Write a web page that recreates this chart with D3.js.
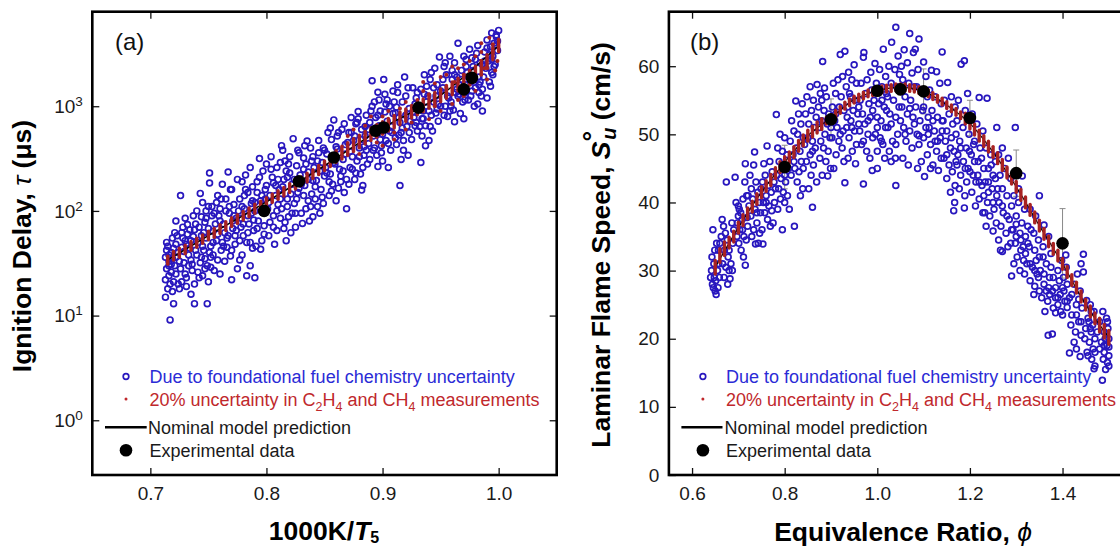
<!DOCTYPE html>
<html>
<head>
<meta charset="utf-8">
<script src="https://cdn.jsdelivr.net/npm/d3@7"></script>
<style>
  body { margin: 0; background: #fff; }
  svg { display: block; font-family: "Liberation Sans", Arial, Helvetica, sans-serif; }
</style>
</head>
<body>
<svg id="fig" width="1120" height="549"></svg>
<script>
// ---------------- Panel (a): ignition delay vs 1000K/T5 ----------------
const ignTicksX = [0.7, 0.8, 0.9, 1.0];
const ignTicksY = [1, 10, 100, 1000];

// blue open circles: [1000K/T5, tau (us)]
const ignBlue = [
[0.713,15],[0.715,18],[0.717,9.1],[0.720,13],[0.714,28],[0.716,33],[0.718,40],[0.715,46],[0.719,55],[0.721,62],[0.722,80],[0.716,24],[0.720,21],[0.713,36],[0.718,26],[0.721,30],[0.714,42],[0.722,48],[0.717,20],[0.719,17],
[0.726,140],[0.730,85],[0.728,70],[0.732,60],[0.735,52],[0.727,45],[0.733,38],[0.729,32],[0.736,27],[0.731,23],[0.738,20],[0.725,18],[0.735,16],[0.738,13],[0.740,100],[0.737,90],[0.739,75],[0.734,66],[0.730,25],[0.727,21],
[0.751,230],[0.751,185],[0.743,147],[0.745,120],[0.748,100],[0.753,90],[0.747,78],[0.750,68],[0.744,58],[0.754,50],[0.746,42],[0.752,36],[0.749,30],[0.755,27],[0.745,24],[0.750,21],[0.743,32],[0.749,13],[0.753,110],[0.746,62],
[0.767,235],[0.762,180],[0.770,160],[0.765,130],[0.772,115],[0.760,105],[0.768,95],[0.774,85],[0.763,75],[0.771,68],[0.758,60],[0.766,55],[0.773,48],[0.761,42],[0.769,37],[0.764,33],[0.775,28],[0.760,25],[0.770,22],[0.758,140],
[0.786,260],[0.782,220],[0.779,190],[0.788,170],[0.784,150],[0.777,130],[0.790,120],[0.781,105],[0.787,95],[0.778,85],[0.785,75],[0.789,65],[0.780,58],[0.783,50],[0.788,44],[0.779,38],[0.786,30],[0.783,24],[0.790,23],[0.777,34],
[0.794,316],[0.800,280],[0.797,240],[0.805,210],[0.792,190],[0.808,175],[0.799,160],[0.803,140],[0.795,125],[0.810,115],[0.801,105],[0.806,90],[0.793,80],[0.798,72],[0.809,65],[0.802,58],[0.796,52],[0.791,46],[0.795,43],[0.807,48],
[0.823,490],[0.814,380],[0.820,330],[0.812,290],[0.826,270],[0.817,240],[0.829,220],[0.815,200],[0.822,180],[0.811,160],[0.827,150],[0.818,130],[0.824,118],[0.813,105],[0.830,95],[0.819,88],[0.816,78],[0.825,70],[0.821,62],[0.817,52],
[0.835,465],[0.838,400],[0.845,360],[0.832,320],[0.848,290],[0.841,260],[0.836,235],[0.850,215],[0.843,195],[0.833,175],[0.847,160],[0.839,145],[0.842,130],[0.849,118],[0.834,105],[0.846,95],[0.840,88],[0.837,80],[0.844,110],[0.831,76],
[0.858,740],[0.853,560],[0.865,600],[0.856,480],[0.868,430],[0.861,390],[0.852,350],[0.866,310],[0.859,280],[0.863,250],[0.855,225],[0.869,200],[0.857,180],[0.862,165],[0.867,150],[0.854,140],[0.860,125],[0.869,105],[0.864,190],[0.851,260],
[0.879,890],[0.873,780],[0.886,820],[0.877,680],[0.889,700],[0.882,600],[0.871,560],[0.885,520],[0.875,470],[0.888,440],[0.880,400],[0.872,370],[0.884,340],[0.878,300],[0.887,280],[0.874,250],[0.881,225],[0.876,200],[0.883,175],[0.882,158],
[0.891,1750],[0.901,1800],[0.896,1360],[0.902,1300],[0.893,1100],[0.906,1000],[0.898,900],[0.909,850],[0.894,780],[0.904,720],[0.897,650],[0.908,560],[0.892,520],[0.903,470],[0.899,420],[0.907,380],[0.895,340],[0.900,300],[0.905,260],[0.896,265],
[0.919,1900],[0.926,1500],[0.913,1350],[0.929,1200],[0.917,1100],[0.923,950],[0.911,860],[0.927,780],[0.915,700],[0.921,640],[0.930,580],[0.914,530],[0.925,480],[0.912,430],[0.918,380],[0.922,340],[0.916,310],[0.915,175],[0.928,650],[0.920,820],
[0.949,2950],[0.945,2300],[0.936,2000],[0.941,1800],[0.947,1600],[0.933,1450],[0.939,1250],[0.944,1100],[0.950,1000],[0.935,900],[0.942,820],[0.948,720],[0.937,650],[0.943,580],[0.934,520],[0.940,470],[0.937,420],[0.933,290],[0.946,860],[0.938,1550],
[0.965,4000],[0.958,3000],[0.962,2600],[0.953,2400],[0.968,2200],[0.955,2000],[0.960,1800],[0.966,1600],[0.952,1500],[0.963,1350],[0.957,1200],[0.969,1100],[0.954,1000],[0.961,920],[0.967,850],[0.956,800],[0.962,710],[0.970,760],[0.959,1100],[0.964,1900],
[0.975,3500],[0.981,3200],[0.972,2800],[0.984,2600],[0.978,2400],[0.973,2100],[0.983,1900],[0.976,1700],[0.980,1500],[0.971,1350],[0.985,1250],[0.974,1150],[0.982,1050],[0.979,1000],[0.986,900],[0.977,2900],[0.983,1350],[0.972,1600],
[1.000,5300],[0.994,5000],[0.998,4600],[0.990,4300],[0.996,4000],[0.993,3700],[0.999,3400],[0.988,3300],[0.995,3000],[0.991,2700],[0.997,2500],[0.989,2300],[0.994,2100],[0.987,1900],[0.992,1700],[0.998,3800],[0.986,1450],[0.990,1200],[0.995,2000],[0.993,1550],
[0.713,22],[0.716,30],[0.719,35],[0.722,25],[0.724,40],[0.726,28],[0.728,55],[0.731,48],[0.733,30],[0.735,34],[0.737,57],[0.739,42],[0.741,26],[0.742,70],[0.744,36],[0.747,28],[0.748,85],[0.752,46],[0.754,38],[0.756,75],
[0.757,120],[0.759,90],[0.762,50],[0.764,62],[0.766,45],[0.768,110],[0.771,80],[0.773,58],[0.776,100],[0.778,70],[0.781,140],[0.784,62],[0.787,118],[0.789,82],[0.792,150],[0.796,98],[0.799,130],[0.803,78],[0.806,185],[0.809,100],
[0.812,130],[0.815,68],[0.818,210],[0.821,145],[0.825,95],[0.828,165],[0.832,250],[0.836,125],[0.840,195],[0.844,300],[0.848,135],[0.852,230],[0.856,155],[0.860,410],[0.864,215],[0.868,350],[0.872,260],[0.876,520],[0.880,330],[0.884,410],
[0.888,600],[0.892,380],[0.896,820],[0.900,540],[0.904,1150],[0.908,640],[0.912,980],[0.916,560],[0.920,1250],[0.924,720],[0.928,1050],[0.932,640],[0.936,1300],[0.940,900],[0.944,1500],[0.948,1050],[0.952,1800],[0.956,1250],[0.960,2200],[0.964,1450],
[0.968,1800],[0.972,2400],[0.976,1250],[0.980,2800],[0.984,1700],[0.988,2700],[0.992,3100],[0.996,2400],[0.999,4200],
[0.714,50],[0.716,38],[0.718,31],[0.720,44],[0.722,36],[0.723,58],[0.724,20],[0.725,33],[0.727,62],[0.729,41],[0.730,52],[0.731,19],[0.732,74],[0.734,44],[0.736,31],[0.738,66],[0.740,38],[0.741,50],[0.742,23],[0.744,88],
[0.745,46],[0.747,35],[0.748,55],[0.750,110],[0.751,40],[0.752,29],[0.754,64],[0.755,95],[0.757,52],[0.758,34],[0.760,80],[0.761,130],[0.763,46],[0.765,100],[0.767,58],[0.769,160],[0.770,42],[0.772,90],[0.774,65],[0.775,200],
[0.777,52],[0.779,110],[0.780,75],[0.782,160],[0.784,90],[0.786,50],[0.788,125],[0.790,100],[0.792,68],[0.794,210],[0.796,140],[0.798,60],[0.800,175],[0.802,120],[0.804,250],[0.806,70],[0.808,140],[0.810,200],[0.812,85],[0.814,170],
[0.816,300],[0.818,110],[0.820,230],[0.822,95],[0.824,200],[0.826,130],[0.828,360],[0.830,180],[0.832,140],[0.834,280],[0.836,200],[0.838,110],[0.840,330],[0.842,170],[0.846,240],[0.850,380],[0.854,190],[0.858,290],[0.862,560],[0.866,240],
[0.870,450],[0.874,330],[0.878,700],[0.882,480],[0.886,380],[0.890,900],[0.894,620],[0.898,480],[0.902,880],[0.906,580],[0.910,1100],[0.914,780],[0.918,470],[0.922,1500],[0.926,880],[0.930,1350],[0.934,760],[0.938,1100],[0.942,2100],[0.946,1250],
[0.950,1400],[0.954,2600],[0.958,900],[0.962,2000],[0.966,1300],[0.970,3000],[0.974,1900],[0.978,2200],[0.982,3800],[0.986,2500],[0.990,3600],[0.994,2800],[0.998,4800],
[0.804,330],[0.809,260],[0.813,420],[0.819,280],[0.827,380],[0.833,420],[0.839,300],[0.845,470],[0.849,400],[0.855,620],[0.861,520],[0.867,680],[0.873,560],[0.879,760],[0.885,640],[0.891,1000],[0.897,1150],[0.903,1050],[0.909,1400],[0.913,1600],
[0.871,180],[0.877,230],[0.883,260],[0.889,310],[0.893,400],[0.899,360],[0.905,440],[0.911,500],[0.917,620],[0.923,560],[0.929,700],[0.935,760],[0.941,640],[0.947,940],[0.953,820],[0.959,1000],[0.965,1250],[0.971,1150],[0.977,1400],[0.983,1600]
];

// red: spread from 20% C2H4/CH4 uncertainty, [1000K/T5, tau low, tau high]
const ignRed = [
[0.715,31,37],[0.72,34,41],[0.725,36,44],[0.73,39,47],[0.735,42,51],[0.74,45,55],[0.745,49,59],[0.75,53,64],[0.755,56,68],[0.76,61,74],
[0.765,65,79],[0.77,71,86],[0.775,76,92],[0.78,82,99],[0.785,88,107],[0.79,95,116],[0.795,103,124],[0.80,111,134],[0.805,120,145],[0.81,129,156],
[0.815,139,168],[0.82,150,182],[0.825,162,196],[0.83,175,211],[0.835,189,229],[0.84,204,248],[0.845,222,272],[0.85,243,300],[0.855,265,335],[0.86,290,375],
[0.865,313,414],[0.87,339,449],[0.875,370,489],[0.88,400,529],[0.885,435,575],[0.89,470,621],[0.895,505,667],[0.90,540,713],[0.905,579,765],[0.91,618,817],
[0.915,666,880],[0.92,713,943],[0.925,770,1018],[0.93,827,1093],[0.935,887,1173],[0.94,957,1265],[0.945,1027,1357],[0.95,1105,1461],[0.955,1192,1576],[0.96,1288,1702],
[0.965,1401,1852],[0.97,1523,2013],[0.975,1670,2208],[0.98,1827,2415],[0.985,2071,2737],[0.99,2349,3105],[0.995,2784,3680],[1.0,3306,4370]
];
// isolated red samples off the main band
const ignRedScatter = [
[0.87,520],[0.88,350],[0.90,800],[0.91,480],[0.915,950],[0.92,600],[0.935,1400],[0.94,750],[0.945,1650],[0.95,900],
[0.955,2000],[0.96,1050],[0.965,2300],[0.97,1250],[0.975,2700],[0.98,1400],[0.985,3300],[0.99,1800],[0.995,3900],[0.988,2300],
[0.962,1700],[0.93,1150],[0.90,420],[0.885,650],[0.97,2500],[0.978,1800],[0.992,4500],[0.997,2200],[0.985,2000],[0.94,1300],
[0.875,600],[0.895,450],[0.905,900],[0.925,700],[0.945,1000],[0.955,1500],[0.965,1150],[0.975,1600],[0.98,3000],[0.99,2300],
[0.995,3300],[0.96,2400],[0.95,1900],[0.935,1700],[0.92,1100],[0.91,560],[0.89,800],[0.999,2700],[0.985,4000],[0.97,2000]
];

const ignNominalX = [0.715, 0.75, 0.8, 0.85, 0.9, 0.95, 1.0];
const ignNominalTau = [34, 58, 122, 270, 620, 1270, 3800];

const ignExpX = [0.798, 0.828, 0.858, 0.894, 0.901, 0.931, 0.970, 0.977];
const ignExpTau = [100, 192, 324, 584, 627, 970, 1448, 1866];

// ---------------- Panel (b): laminar flame speed vs phi ----------------
const flameTicksX = [0.6, 0.8, 1.0, 1.2, 1.4];
const flameTicksY = [0, 10, 20, 30, 40, 50, 60];

// blue open circles: [phi, S_u (cm/s)]
const flameBlue = [
[0.645,36],[0.643,32],[0.647,31],[0.642,30],[0.648,29],[0.644,28],[0.646,27.5],[0.65,27],[0.652,26.5],[0.655,30],[0.657,33],[0.653,34],[0.658,31],[0.651,28.5],[0.656,27.5],[0.659,29],[0.649,33],
[0.674,43],[0.665,37.5],[0.668,36.5],[0.672,35.5],[0.676,34.5],[0.663,35],[0.67,33],[0.678,32],[0.666,31],[0.673,30.5],[0.68,30],[0.684,31],[0.669,29],[0.682,28.8],[0.677,28],[0.686,37],[0.688,34],[0.693,43.7],[0.69,36],[0.687,30],
[0.715,45.7],[0.714,43],[0.695,40],[0.70,39.5],[0.705,38.5],[0.71,40.5],[0.698,37],[0.703,36],[0.708,37.5],[0.712,35],[0.717,34.5],[0.701,34],[0.706,33],[0.697,35],[0.711,32],[0.715,30.8],[0.702,39],[0.718,41],[0.709,36],[0.719,37.8],
[0.735,47.4],[0.733,45.5],[0.725,44],[0.738,43],[0.728,42],[0.742,41.5],[0.731,40.5],[0.745,40],[0.723,39.5],[0.736,39],[0.748,38.5],[0.727,38],[0.74,37],[0.733,36],[0.746,35.5],[0.729,35],[0.743,34],[0.737,33.9],[0.749,42],[0.721,41],
[0.762,48.3],[0.755,45.7],[0.768,46],[0.758,44],[0.773,44.5],[0.752,43],[0.765,42.5],[0.777,43],[0.76,41],[0.771,41.5],[0.754,40],[0.766,39.5],[0.778,40],[0.757,38.5],[0.763,37.5],[0.775,37],[0.751,36],[0.769,36.5],[0.753,33.9],[0.772,38.8],
[0.782,52.9],[0.79,50],[0.80,49.5],[0.785,48],[0.795,47.5],[0.805,47],[0.788,46],[0.798,45.5],[0.808,45],[0.783,44],[0.792,43.5],[0.802,43],[0.787,42],[0.797,41.5],[0.806,41],[0.791,40.5],[0.80,40],[0.795,36],[0.81,39],[0.785,39],
[0.824,54.9],[0.838,54.5],[0.83,53],[0.815,52],[0.835,51.5],[0.82,50.5],[0.828,50],[0.84,49.5],[0.812,49],[0.825,48],[0.833,47.5],[0.818,47],[0.836,46],[0.822,45],[0.831,44.5],[0.814,44],[0.827,43],[0.839,42],[0.821,36.5],[0.834,41],
[0.855,57],[0.87,57.3],[0.848,55.5],[0.862,55],[0.845,53],[0.858,53.5],[0.868,52.5],[0.852,51.5],[0.864,51],[0.85,49.5],[0.86,49],[0.843,48.5],[0.866,48],[0.855,47],[0.847,46],[0.862,45.5],[0.857,44],[0.869,43],[0.852,42],[0.86,39.3],
[0.882,60.7],[0.877,56],[0.89,55.5],[0.873,54],[0.885,53.5],[0.895,53],[0.88,52],[0.892,51.5],[0.875,51],[0.887,50],[0.898,49.5],[0.878,49],[0.884,48],[0.894,47.5],[0.876,46.5],[0.889,46],[0.899,45],[0.881,44],[0.893,43.9],[0.886,56.8],
[0.92,61.7],[0.93,62.2],[0.905,57.5],[0.915,58],[0.925,58.5],[0.91,56],[0.922,55.5],[0.903,54],[0.918,54],[0.928,53.5],[0.908,52],[0.913,51],[0.926,50.5],[0.902,49.5],[0.917,49],[0.924,48],[0.911,47],[0.928,46],[0.906,45],[0.93,42.9],
[0.938,59.1],[0.95,60.2],[0.945,58],[0.933,57],[0.955,57.5],[0.94,56],[0.952,55],[0.936,54],[0.948,53.5],[0.958,53],[0.943,52],[0.934,51],[0.951,50.5],[0.939,49.5],[0.955,48.5],[0.946,47.5],[0.937,46.5],[0.953,45.7],[0.96,51.5],[0.942,55.5],
[0.971,62],[0.97,61.3],[0.986,59.1],[0.965,57.5],[0.978,58],[0.975,56],[0.988,56.5],[0.963,55],[0.982,54.5],[0.968,53],[0.985,52.5],[0.973,51.5],[0.962,50.5],[0.98,50],[0.99,49.5],[0.966,48.5],[0.977,47.5],[0.984,46.5],[0.97,42.7],[0.989,44.7],
[1.013,62.5],[0.995,60.4],[1.005,59.5],[1.018,58.5],[0.998,57.5],[1.01,57],[1.02,56],[0.993,55],[1.003,54.5],[1.015,54],[1.0,52.5],[1.008,52],[1.018,51],[0.996,50],[1.006,49.5],[1.012,48.5],[1.0,47.5],[1.016,46.5],[1.0,45],[1.009,49],
[1.04,65.7],[1.031,63.5],[1.045,61.5],[1.025,60],[1.038,59.5],[1.048,58.8],[1.03,57.5],[1.042,57],[1.022,55.5],[1.035,55],[1.047,54],[1.027,53],[1.04,52.5],[1.023,51],[1.044,50],[1.033,49],[1.026,47.5],[1.039,46.5],[1.03,46],[1.04,42.5],
[1.07,64.8],[1.058,62.4],[1.078,62],[1.052,60],[1.065,60.5],[1.075,59],[1.055,58],[1.068,57.5],[1.08,57],[1.06,55.5],[1.072,55],[1.053,54],[1.065,53],[1.077,52.5],[1.057,51],[1.07,50.5],[1.062,49],[1.075,48],[1.055,46.5],[1.067,45.5],
[1.09,64],[1.082,62.5],[1.10,60.6],[1.088,59.5],[1.105,58.5],[1.085,57],[1.095,56.5],[1.108,55.5],[1.083,54],[1.098,53.5],[1.092,52],[1.105,51],[1.086,50],[1.10,49.5],[1.09,48.5],[1.108,47],[1.095,46],[1.087,45],[1.102,43.8],[1.11,52.5],
[1.14,62.1],[1.117,59.4],[1.128,59.2],[1.135,57.5],[1.113,56.5],[1.125,55.5],[1.138,54.5],[1.118,53.5],[1.13,52.5],[1.112,51],[1.123,50.5],[1.136,49.5],[1.115,48.5],[1.128,47.5],[1.138,46.5],[1.12,45.5],[1.132,44.7],[1.125,49],[1.14,52],[1.115,45],
[1.152,57.6],[1.16,55.5],[1.145,55],[1.168,54],[1.155,53],[1.142,52],[1.163,51.5],[1.15,50.5],[1.17,50],[1.147,49],[1.158,48],[1.166,47.5],[1.144,46.5],[1.155,45.5],[1.162,44.5],[1.15,43.5],[1.168,42.5],[1.158,41.5],[1.167,40],[1.165,38.8],
[1.188,60.8],[1.181,60.3],[1.195,56],[1.175,55],[1.19,53.5],[1.172,52],[1.185,51],[1.198,50],[1.178,49],[1.192,48],[1.174,47],[1.186,46],[1.196,45],[1.18,44],[1.193,43],[1.177,42],[1.189,41],[1.188,39.2],[1.172,45.5],[1.199,47.5],
[1.22,55.4],[1.205,53],[1.215,51.5],[1.228,50.5],[1.21,49],[1.222,48],[1.203,47],[1.218,46],[1.23,45],[1.207,44],[1.213,43],[1.226,42.5],[1.204,41.5],[1.22,40.5],[1.212,39.5],[1.228,38.5],[1.208,48.5],[1.225,46.5],[1.217,44],[1.23,41],
[1.237,55.3],[1.258,51],[1.235,48],[1.245,47],[1.255,46],[1.24,45],[1.25,44],[1.233,43],[1.248,42],[1.258,41],[1.238,40],[1.252,39],[1.243,38],[1.257,37],[1.235,36.5],[1.25,35.8],[1.24,41.5],[1.255,43.5],[1.246,45.5],[1.232,38.5],
[1.298,51],[1.27,48],[1.262,47],[1.283,46.5],[1.275,45],[1.265,44],[1.288,43.5],[1.27,42],[1.28,41],[1.263,40],[1.29,39.5],[1.272,38.5],[1.285,37.5],[1.267,36.5],[1.278,35.5],[1.262,34.5],[1.288,34],[1.27,32.8],[1.282,33.5],[1.266,33],
[1.313,43.9],[1.295,41],[1.305,40],[1.318,39],[1.30,38],[1.312,37],[1.293,36],[1.308,35.5],[1.32,35],[1.298,34],[1.31,33],[1.302,32],[1.316,31.5],[1.295,31],[1.308,30],[1.29,29.2],[1.318,29.5],[1.30,36.8],[1.315,33.5],[1.305,42],
[1.35,41],[1.33,39],[1.342,38],[1.325,36.5],[1.338,35.5],[1.348,34.5],[1.328,33.5],[1.34,33],[1.35,32],[1.323,31],[1.335,30.5],[1.345,29.5],[1.33,28.5],[1.34,27.7],[1.35,27],[1.325,34],[1.343,31.5],[1.332,36],[1.348,29],[1.338,26.5],
[1.36,36.7],[1.37,35],[1.358,33.5],[1.375,32.5],[1.365,31],[1.352,30],[1.372,29],[1.36,28],[1.378,27],[1.355,26],[1.368,25.5],[1.38,24.5],[1.362,24],[1.385,23.8],[1.369,20.5],[1.378,20.7],[1.375,30.5],[1.365,27],[1.358,32],[1.372,26.5],
[1.407,32.3],[1.398,31.5],[1.39,30],[1.402,29],[1.41,28],[1.385,27.5],[1.395,26.5],[1.405,25.5],[1.39,25],[1.41,24.6],[1.40,23.5],[1.393,28.5],[1.408,30.5],[1.385,26],[1.396,24],[1.403,27],
[1.445,32.4],[1.44,31],[1.432,29.5],[1.425,28],[1.438,27],[1.415,26],[1.43,25],[1.442,24.5],[1.42,23.5],[1.435,22.5],[1.418,22],[1.428,21],[1.44,20.5],[1.425,19.5],[1.43,18.5],[1.415,17.9],[1.438,17.4],[1.445,29.8],[1.42,26.5],[1.435,25.8],
[1.452,25.6],[1.46,25],[1.468,24],[1.455,23],[1.465,22],[1.45,21.5],[1.462,21],[1.47,20],[1.458,19.5],[1.466,18.5],[1.453,18],[1.463,17],[1.47,16],[1.468,15.6],[1.457,22.5],[1.448,20],[1.462,24],[1.455,17.5],
[1.487,24],[1.495,23],[1.48,22.5],[1.498,21.5],[1.49,21],[1.50,20],[1.484,19.5],[1.496,19],[1.49,18],[1.50,17.5],[1.488,17],[1.497,16.5],[1.50,16],[1.493,15.5],[1.486,13.9],[1.475,21],[1.48,18.5],[1.497,22.5],[1.50,18.8],[1.492,20],
[0.88,55],[0.90,51],[0.91,53],[0.92,50],[0.935,52.5],[0.945,51],[0.96,54],[0.97,49],[0.98,52],[0.99,53.5],[1.0,51],[1.01,55],[1.02,53.5],[1.03,51.5],[1.04,48.5],[1.05,52],[1.06,50],[1.07,53.8],[1.08,51.5],[1.09,49.8],
[1.10,54],[1.11,50],[1.12,52],[1.13,49],[1.14,50.5],[1.15,47],[1.16,49.5],[1.17,46],[1.18,48],[1.19,45],[1.20,44.5],[1.21,46],[1.22,43],[1.24,43],[1.25,40],[1.26,42],[1.27,39.5],[1.28,38],[1.29,36],[1.30,35],
[1.31,34.5],[1.32,32.5],[1.33,31],[1.34,30],[1.36,29.5],[1.37,27.5],[1.38,29],[1.39,26],[1.40,27.5],[1.41,25.5],[1.43,23.5],[1.44,22.5],[1.46,21.5],[1.47,18],[1.49,19],[0.70,38],[0.72,36.5],[0.74,38.5],[0.76,40],[0.78,42],
[0.80,44],[0.82,46],[0.84,45],[0.86,47.5],[0.66,34],[0.68,33],[0.64,29]
];

// red: [phi, S_u low, S_u high]
const flameRed = [
[0.65,29.5,31.5],[0.66,31.2,33.2],[0.67,32.2,34.2],[0.68,33.3,34.9],[0.69,34.2,35.8],[0.70,35.5,37.1],[0.71,36.6,38.2],[0.72,37.6,39.2],[0.73,38.6,40.2],[0.74,39.7,41.3],
[0.75,40.7,42.3],[0.76,41.6,43.2],[0.77,42.5,44.1],[0.78,43.5,45.1],[0.79,44.4,46.0],[0.80,45.1,46.7],[0.81,45.8,47.4],[0.82,46.6,48.2],[0.83,47.5,49.1],[0.84,48.3,49.9],
[0.85,49.0,50.6],[0.86,49.6,51.2],[0.87,50.2,51.8],[0.88,50.7,52.3],[0.89,51.5,52.5],[0.90,51.9,52.9],[0.91,52.5,53.5],[0.92,53.1,54.1],[0.93,53.7,54.7],[0.94,54.2,55.2],
[0.95,54.6,55.6],[0.96,54.9,55.9],[0.97,55.2,56.2],[0.98,55.5,56.5],[0.99,55.7,56.7],[1.00,55.9,56.9],[1.01,56.1,57.1],[1.02,56.2,57.2],[1.03,56.3,57.3],[1.04,56.4,57.4],
[1.05,56.4,57.4],[1.06,56.4,57.4],[1.07,56.3,57.3],[1.08,56.2,57.2],[1.09,56.0,57.0],[1.10,55.8,56.8],[1.11,55.5,56.5],[1.12,55.1,56.1],[1.13,54.7,55.7],[1.14,54.3,55.3],
[1.15,53.8,54.8],[1.16,53.3,54.3],[1.17,52.8,53.8],[1.18,52.3,53.3],[1.19,51.5,53.1],[1.20,50.8,52.4],[1.21,49.9,51.5],[1.22,49.0,50.6],[1.23,48.2,49.8],[1.24,47.4,49.0],
[1.25,46.6,48.2],[1.26,45.7,47.3],[1.27,44.7,46.3],[1.28,43.6,45.2],[1.29,42.7,44.3],[1.30,41.5,43.1],[1.31,40.3,41.9],[1.32,39.2,40.8],[1.33,38.1,39.7],[1.34,37.0,38.6],
[1.35,35.8,37.4],[1.36,34.6,36.2],[1.37,33.5,35.1],[1.38,32.4,34.0],[1.39,31.4,33.0],[1.40,30.2,31.8],[1.41,29.0,30.6],[1.42,27.8,29.4],[1.43,26.7,28.3],[1.44,25.4,27.0],
[1.45,24.2,25.8],[1.46,23.2,24.8],[1.47,22.2,23.8],[1.48,21.0,23.0],[1.49,20.1,22.1],[1.50,19.2,21.2]
];

const flameNominalPhi = [0.65, 0.7, 0.75, 0.8, 0.85, 0.9, 0.95, 1.0, 1.05, 1.1, 1.15, 1.2, 1.25, 1.3, 1.35, 1.4, 1.45, 1.5];
const flameNominalS = [30.5, 36.3, 41.5, 45.9, 49.8, 52.4, 55.1, 56.4, 56.9, 56.3, 54.3, 51.6, 47.4, 42.3, 36.6, 31.0, 25.0, 20.2];

const flameExpPhi = [0.8, 0.9, 1.0, 1.05, 1.1, 1.2, 1.3, 1.4];
const flameExpS = [45.2, 52.2, 56.4, 56.6, 56.3, 52.4, 44.3, 34.0];
const flameExpErr = [3.2, 3.0, 0.8, 0.8, 3.3, 2.6, 3.4, 5.1];

// ---------------- drawing ----------------
const BLUE = "#2817be", RED = "#a82222", REDTXT = "#c0282c", BLUETXT = "#2b2bd6";
const svg = d3.select("#fig");
const frameTop = 11.7, frameBottom = 475;
const panA = { left: 92.3, right: 556.7 };
const panB = { left: 668.9, right: 1132 };

const xA = d3.scaleLinear().domain([0.65, 1.05]).range([panA.left, panA.right]);
const yA = d3.scaleLog().domain([0.3, 8000]).range([frameBottom, frameTop]);
const xB = d3.scaleLinear().domain([0.55, 1.55]).range([panB.left, panB.right]);
const yB = d3.scaleLinear().domain([0, 68]).range([frameBottom, frameTop]);

const TICK_FS = 19;

function styleAxis(g) {
  g.select(".domain").remove();
  g.selectAll(".tick line").attr("stroke", "#111").attr("stroke-width", 1.3);
  g.selectAll(".tick text").attr("font-size", TICK_FS).attr("fill", "#1a1a1a")
    .attr("font-family", '"Liberation Sans", Arial, sans-serif');
}

function drawAxes(x, y, pan, tx, ty, fmtX, fmtY) {
  const gb = svg.append("g").attr("transform", `translate(0,${frameBottom})`)
    .call(d3.axisBottom(x).tickValues(tx).tickFormat(fmtX).tickSizeInner(-7).tickSizeOuter(0).tickPadding(12));
  styleAxis(gb);
  const gt = svg.append("g").attr("transform", `translate(0,${frameTop})`)
    .call(d3.axisTop(x).tickValues(tx).tickFormat(() => "").tickSizeInner(-7).tickSizeOuter(0));
  styleAxis(gt);
  const gl = svg.append("g").attr("transform", `translate(${pan.left},0)`)
    .call(d3.axisLeft(y).tickValues(ty).tickFormat(fmtY).tickSizeInner(-7).tickSizeOuter(0).tickPadding(9.5));
  styleAxis(gl);
  const gr = svg.append("g").attr("transform", `translate(${pan.right},0)`)
    .call(d3.axisRight(y).tickValues(ty).tickFormat(() => "").tickSizeInner(-7).tickSizeOuter(0));
  styleAxis(gr);
  return gl;
}

// panel (a) axes with power-of-ten labels
const glA = drawAxes(xA, yA, panA, ignTicksX, ignTicksY, d3.format(".1f"), d => "10");
glA.selectAll(".tick text").each(function (d) {
  d3.select(this).append("tspan").attr("dy", "-0.5em").attr("font-size", 13.5)
    .text(Math.round(Math.log10(d)));
});
drawAxes(xB, yB, panB, flameTicksX, flameTicksY, d3.format(".1f"), d3.format("d"));

// ---- panel (a) marks ----
const gA = svg.append("g");
gA.selectAll("circle.blue").data(ignBlue).join("circle").attr("class", "blue")
  .attr("cx", d => xA(d[0])).attr("cy", d => yA(d[1])).attr("r", 2.9)
  .attr("fill", "none").attr("stroke", BLUE).attr("stroke-width", 1.7);
gA.append("path").datum(ignNominalX.map((v, i) => [v, ignNominalTau[i]]))
  .attr("d", d3.line().x(d => xA(d[0])).y(d => yA(d[1])).curve(d3.curveMonotoneX))
  .attr("fill", "none").attr("stroke", "#000").attr("stroke-width", 1.5);
gA.selectAll("line.red").data(ignRed).join("line").attr("class", "red")
  .attr("x1", d => xA(d[0])).attr("x2", d => xA(d[0]))
  .attr("y1", d => yA(d[1])).attr("y2", d => yA(d[2]))
  .attr("stroke", RED).attr("stroke-width", 3.4).attr("stroke-linecap", "round");
gA.selectAll("circle.reds").data(ignRedScatter).join("circle").attr("class", "reds")
  .attr("cx", d => xA(d[0])).attr("cy", d => yA(d[1])).attr("r", 2).attr("fill", RED);
gA.selectAll("circle.exp").data(ignExpX).join("circle").attr("class", "exp")
  .attr("cx", d => xA(d)).attr("cy", (d, i) => yA(ignExpTau[i])).attr("r", 6.3).attr("fill", "#000");

// ---- panel (b) marks ----
const gB = svg.append("g");
gB.selectAll("g.err").data(flameExpPhi).join("g").attr("class", "err").each(function (d, i) {
  const g = d3.select(this), cx = xB(d);
  const y1 = yB(flameExpS[i] + flameExpErr[i]), y0 = yB(flameExpS[i] - flameExpErr[i]);
  g.append("line").attr("x1", cx).attr("x2", cx).attr("y1", y1).attr("y2", y0);
  g.append("line").attr("x1", cx - 3).attr("x2", cx + 3).attr("y1", y1).attr("y2", y1);
  g.append("line").attr("x1", cx - 3).attr("x2", cx + 3).attr("y1", y0).attr("y2", y0);
  g.selectAll("line").attr("stroke", "#8a8a8a").attr("stroke-width", 1);
});
gB.selectAll("circle.blue").data(flameBlue).join("circle").attr("class", "blue")
  .attr("cx", d => xB(d[0])).attr("cy", d => yB(d[1])).attr("r", 2.9)
  .attr("fill", "none").attr("stroke", BLUE).attr("stroke-width", 1.7);
gB.append("path").datum(flameNominalPhi.map((v, i) => [v, flameNominalS[i]]))
  .attr("d", d3.line().x(d => xB(d[0])).y(d => yB(d[1])).curve(d3.curveMonotoneX))
  .attr("fill", "none").attr("stroke", "#000").attr("stroke-width", 1.2);
gB.selectAll("line.red").data(flameRed).join("line").attr("class", "red")
  .attr("x1", d => xB(d[0])).attr("x2", d => xB(d[0]))
  .attr("y1", d => yB(d[1])).attr("y2", d => yB(d[2]))
  .attr("stroke", RED).attr("stroke-width", 3.4).attr("stroke-linecap", "round");
gB.selectAll("circle.exp").data(flameExpPhi).join("circle").attr("class", "exp")
  .attr("cx", d => xB(d)).attr("cy", (d, i) => yB(flameExpS[i])).attr("r", 6.3).attr("fill", "#000");

// ---- frames ----
[panA, panB].forEach(p => {
  svg.append("rect").attr("x", p.left).attr("y", frameTop).attr("width", p.right - p.left)
    .attr("height", frameBottom - frameTop).attr("fill", "none").attr("stroke", "#000").attr("stroke-width", 2.6);
});

// ---- legends ----
function legend(mx, tx, lineX0, lineX1) {
  const g = svg.append("g").attr("font-size", 18);
  g.append("circle").attr("cx", mx).attr("cy", 376.5).attr("r", 2.8)
    .attr("fill", "none").attr("stroke", BLUE).attr("stroke-width", 1.7);
  g.append("text").attr("x", tx).attr("y", 383).attr("fill", BLUETXT)
    .text("Due to foundational fuel chemistry uncertainty");
  g.append("circle").attr("cx", mx).attr("cy", 399).attr("r", 1.5).attr("fill", REDTXT);
  const t = g.append("text").attr("x", tx).attr("y", 405.5).attr("fill", REDTXT);
  t.append("tspan").text("20% uncertainty in C");
  t.append("tspan").attr("font-size", 12.5).attr("dy", 5).text("2");
  t.append("tspan").attr("dy", -5).text("H");
  t.append("tspan").attr("font-size", 12.5).attr("dy", 5).text("4");
  t.append("tspan").attr("dy", -5).text(" and CH");
  t.append("tspan").attr("font-size", 12.5).attr("dy", 5).text("4");
  t.append("tspan").attr("dy", -5).text(" measurements");
  g.append("line").attr("x1", lineX0).attr("x2", lineX1).attr("y1", 427.3).attr("y2", 427.3)
    .attr("stroke", "#000").attr("stroke-width", 2.6);
  g.append("text").attr("x", tx - 1.5).attr("y", 433.8).attr("fill", "#1a1a1a").text("Nominal model prediction");
  g.append("circle").attr("cx", mx).attr("cy", 450.2).attr("r", 6.3).attr("fill", "#000");
  g.append("text").attr("x", tx).attr("y", 456.6).attr("fill", "#1a1a1a").text("Experimental data");
}
legend(126, 149.5, 105, 146.7);
legend(702.9, 726, 681.4, 722.5);

// ---- panel tags ----
svg.append("text").attr("x", 115).attr("y", 50).attr("font-size", 24).attr("fill", "#111").text("(a)");
svg.append("text").attr("x", 690).attr("y", 50).attr("font-size", 24).attr("fill", "#111").text("(b)");

// ---- axis titles ----
const titleFS = 26.5;
const xtA = svg.append("text").attr("x", 324).attr("y", 540).attr("text-anchor", "middle")
  .attr("font-size", titleFS).attr("font-weight", "bold").attr("fill", "#000");
xtA.append("tspan").text("1000K/");
xtA.append("tspan").attr("font-style", "italic").text("T");
xtA.append("tspan").attr("font-size", 16).attr("dy", 3).text("5");

const xtB = svg.append("text").attr("x", 903).attr("y", 541).attr("text-anchor", "middle")
  .attr("font-size", titleFS).attr("font-weight", "bold").attr("fill", "#000");
xtB.append("tspan").text("Equivalence Ratio, ");
xtB.append("tspan").attr("font-style", "italic").attr("font-weight", "normal").text("\u03D5");

const ytA = svg.append("text").attr("transform", "translate(31,246) rotate(-90)").attr("text-anchor", "middle")
  .attr("font-size", titleFS).attr("font-weight", "bold").attr("fill", "#000");
ytA.append("tspan").text("Ignition Delay, ");
ytA.append("tspan").attr("font-style", "italic").attr("font-weight", "normal").text("\u03C4");
ytA.append("tspan").text(" (\u03BCs)");

const ytB = svg.append("text").attr("transform", "translate(610,245) rotate(-90)").attr("text-anchor", "middle")
  .attr("font-size", titleFS).attr("font-weight", "bold").attr("fill", "#000");
ytB.append("tspan").text("Laminar Flame Speed, ");
ytB.append("tspan").attr("font-style", "italic").text("S");
ytB.append("tspan").attr("dy", -9).text("\u00B0");
ytB.append("tspan").attr("font-style", "italic").attr("font-size", 20).attr("dx", -9).attr("dy", 15).text("u");
ytB.append("tspan").attr("dy", -6).text(" (cm/s)");
</script>
</body>
</html>
